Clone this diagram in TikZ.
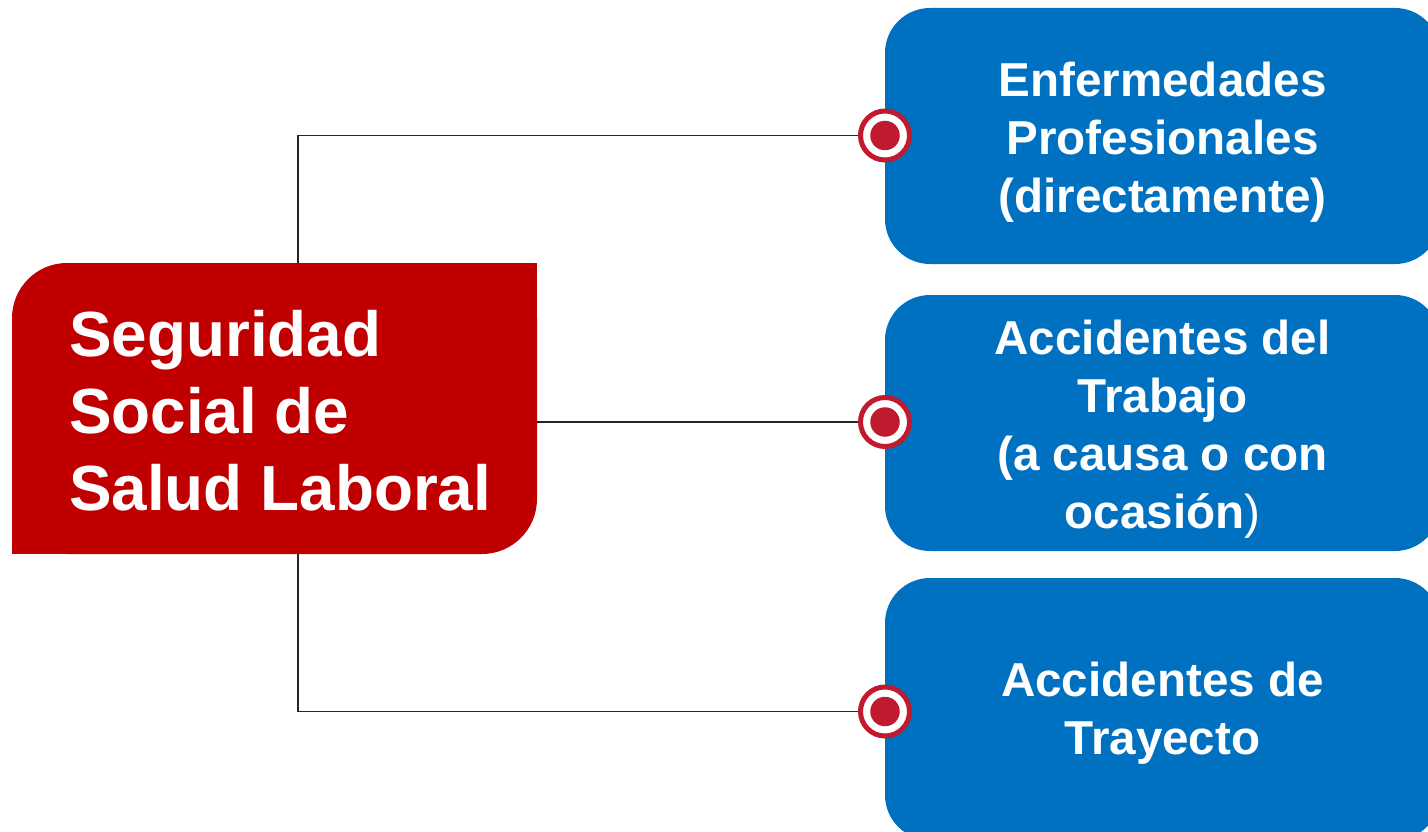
\documentclass[tikz,border=0pt]{standalone}
\usepackage{fontspec}
\setmainfont{Liberation Sans}
\definecolor{mainred}{RGB}{192,0,0}
\definecolor{boxblue}{RGB}{0,112,192}
\definecolor{ringred}{RGB}{192,26,46}
\begin{document}
\begin{tikzpicture}[x=1pt,y=-1pt,
  bluebox/.style={fill=boxblue, rounded corners=45, minimum width=555, inner sep=0},
  bluetext/.style={text=white, font=\bfseries\fontsize{47.6}{58}\selectfont, align=center, inner sep=0},
  ring/.style={circle, draw=ringred, line width=5, fill=white, minimum size=49, inner sep=0},
  dot/.style={circle, fill=ringred, minimum size=29.5, inner sep=0},
  conn/.style={draw=black!85, line width=1.1}]
\clip (0,0) rectangle (1428,832);
\fill[white] (0,0) rectangle (1428,832);
% blue boxes
\node[bluebox, minimum height=256] (b1) at (1162.5,136) {};
\node[bluebox, minimum height=256] (b2) at (1162.5,423) {};
\node[bluebox, minimum height=262] (b3) at (1162.5,709) {};
\node[bluetext] (t1) at (1162.5,142.5) {Enfermedades\\Profesionales\\(directamente)};
\node[bluetext] (t2) at (1162.5,429.5) {Accidentes del\\Trabajo\\(a causa o con\\ocasión{\mdseries)}};
\node[bluetext] (t3) at (1162.5,713.5) {Accidentes de\\Trayecto};
% red box
\node[fill=mainred, rounded corners=55, minimum width=525, minimum height=291, inner sep=0] (main) at (274.5,408.5) {};
\fill[mainred] (437,263) rectangle (537,363);
\fill[mainred] (12,454) rectangle (112,554);
\node[text=white, font=\bfseries\fontsize{63.8}{77}\selectfont, align=left, anchor=west, inner sep=0] (mt) at (69,411) {Seguridad\\Social de\\Salud Laboral};
% connectors
\coordinate (topj) at ([xshift=23.5]main.north);
\coordinate (botj) at ([xshift=23.5]main.south);
\node[ring] (c1) at (885,135.5) {};
\node[ring] (c2) at (885,422) {};
\node[ring] (c3) at (885,711.5) {};
\path[conn] (topj) |- (c1.west);
\path[conn] (main.east |- c2) -- (c2.west);
\path[conn] (botj) |- (c3.west);
\node[dot] (d1) at (c1) {};
\node[dot] (d2) at (c2) {};
\node[dot] (d3) at (c3) {};
\end{tikzpicture}
\end{document}
